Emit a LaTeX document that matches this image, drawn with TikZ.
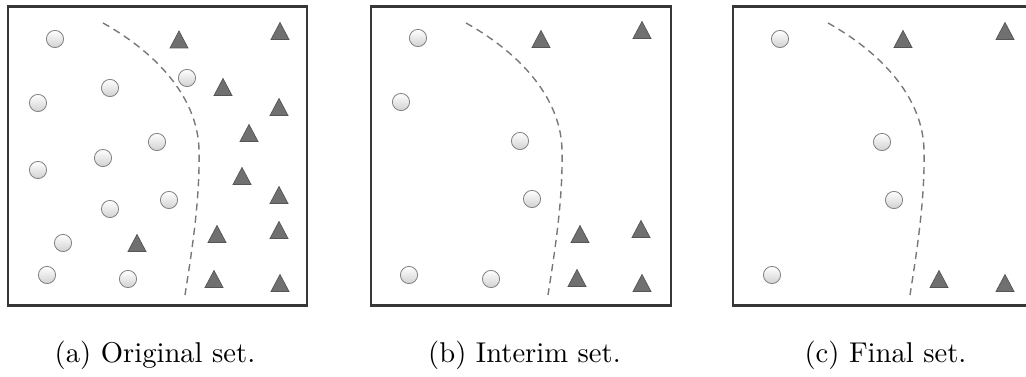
\documentclass[tikz,border=0pt]{standalone}
\usetikzlibrary{shapes.geometric}
\definecolor{boxline}{RGB}{55,55,55}
\definecolor{trifill}{RGB}{112,112,112}
\definecolor{triedge}{RGB}{85,85,85}
\definecolor{balledge}{RGB}{130,130,130}
\definecolor{curvecol}{RGB}{120,120,120}
\tikzset{
  panel/.style={draw=boxline, line width=0.8pt},
  ball/.style={circle, draw=balledge, line width=0.3pt, top color=white, bottom color=black!18, inner sep=0pt, minimum size=6.2pt},
  tri/.pic={\fill[trifill, draw=triedge, line width=0.25pt] (-9,8.5) -- (9,8.5) -- (0,-8.5) -- cycle;},
  sep/.style={draw=curvecol, line width=0.5pt, dash pattern=on 2.6pt off 1.8pt},
  captext/.style={anchor=base, inner sep=0pt, font=\fontsize{10.3}{12}\selectfont}
}
\begin{document}
\begin{tikzpicture}[x=0.36pt, y=-0.36pt]
\useasboundingbox (0,0) rectangle (1026,377);
% panel frames
\draw[panel] (8,6.5) rectangle (307,305.5);
\draw[panel] (371,6.5) rectangle (671,305.5);
\draw[panel] (733,6.5) rectangle (1034,305.5);
% separating curves
\foreach \o in {0,363,725}{
  \begin{scope}[xshift=\o*0.36pt]
  \draw[sep] (103,23) .. controls (160,55) and (198,100) .. (199,150)
                      .. controls (200,200) and (192,250) .. (185,295);
  \end{scope}
}
% panel (a)
\foreach \x/\y [count=\i] in {55/39,110/88,38/103,187/78,157/142,103/158,38/170,169/200,110/209,63/243,47/275,128/279}
  \node[ball] (a-c\i) at (\x,\y) {};
\foreach \x/\y [count=\i] in {179/39.5,280/31,223/87,279/107,249/133,242/176,279/195,279/230,137/243,217/234,214/279,280/283}
  \pic (a-t\i) at (\x,\y) {tri};
% panel (b)
\foreach \x/\y [count=\i] in {418/38,401/102,520/141,532/199,409/275,491/279}
  \node[ball] (b-c\i) at (\x,\y) {};
\foreach \x/\y [count=\i] in {541/39,642/30,580/234,641/229,577/278,642/283}
  \pic (b-t\i) at (\x,\y) {tri};
% panel (c)
\foreach \x/\y [count=\i] in {780/39,882/142,894/200,772/275}
  \node[ball] (c-c\i) at (\x,\y) {};
\foreach \x/\y [count=\i] in {903/39,1005/31,939/279,1005/283}
  \pic (c-t\i) at (\x,\y) {tri};
% captions
\node[captext] (capa) at (155,363) {(a) Original set.};
\node[captext] (capb) at (524.5,363) {(b) Interim set.};
\node[captext] (capc) at (885.5,363) {(c) Final set.};
\end{tikzpicture}
\end{document}
